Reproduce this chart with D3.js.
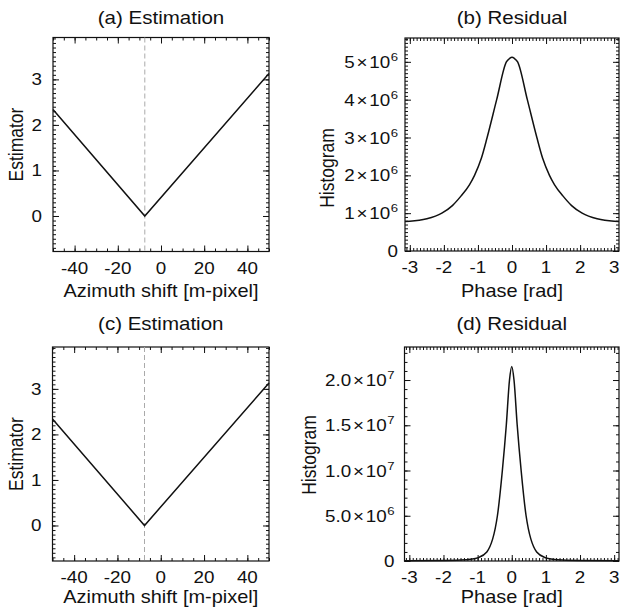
<!DOCTYPE html>
<html>
<head>
<meta charset="utf-8">
<script src="https://cdn.jsdelivr.net/npm/d3@7"></script>
<style>
  body { margin: 0; background: #fff; }
  text { font-family: "Liberation Sans", Arial, Helvetica, sans-serif; fill: #111; }
</style>
</head>
<body>
<svg id="chart" width="621" height="611"></svg>
<script>
// estimator curves (a) and (c) - same shape
const estShift = [-50, -7.5, 50];
const estValue = [2.34, 0, 3.13];
const estMinShift = -7.5;

// residual histogram (b)
const phaseB = [-3.14, -3.0, -2.5, -2.06, -1.75, -1.5, -1.25, -1.1, -0.9, -0.73, -0.45, -0.165, -0.07, 0, 0.07, 0.165, 0.45, 0.73, 0.9, 1.1, 1.25, 1.5, 1.75, 2.06, 2.5, 3.0, 3.14];
const countB = [0.78e6, 0.785e6, 0.85e6, 1.0e6, 1.2e6, 1.45e6, 1.75e6, 2.0e6, 2.45e6, 3.0e6, 4.0e6, 5.0e6, 5.09e6, 5.12e6, 5.09e6, 5.0e6, 4.0e6, 3.0e6, 2.45e6, 2.0e6, 1.75e6, 1.45e6, 1.2e6, 1.0e6, 0.85e6, 0.785e6, 0.78e6];

// residual histogram (d)
const phaseD = [-3.14, -2.0, -1.5, -1.2, -1.0, -0.73, -0.42, -0.275, -0.16, -0.066, 0, 0.066, 0.16, 0.275, 0.42, 0.73, 1.0, 1.2, 1.5, 2.0, 3.14];
const countD = [0.02e6, 0.05e6, 0.1e6, 0.2e6, 0.35e6, 1.0e6, 5.0e6, 10.0e6, 15.0e6, 20.0e6, 21.5e6, 20.0e6, 15.0e6, 10.0e6, 5.0e6, 1.0e6, 0.35e6, 0.2e6, 0.1e6, 0.05e6, 0.02e6];

const estXTicks = [-40, -20, 0, 20, 40];
const estYTicks = [0, 1, 2, 3];
const phaseTicks = [-3, -2, -1, 0, 1, 2, 3];
const histBTicks = [0, 1e6, 2e6, 3e6, 4e6, 5e6];
const histDTicks = [0, 5e6, 1e7, 1.5e7, 2e7];

const titles = ['(a) Estimation', '(b) Residual', '(c) Estimation', '(d) Residual'];
const estXLabel = 'Azimuth shift [m-pixel]';
const estYLabel = 'Estimator';
const resXLabel = 'Phase [rad]';
const resYLabel = 'Histogram';

const SX = 1.14; // reference text is horizontally stretched
const svg = d3.select('#chart');

function putText(g, x, y, str, size, anchor, rot) {
    const t = g.append('text')
        .attr('transform', 'translate(' + x + ',' + y + ') scale(' + SX + ',1)' + (rot ? ' rotate(' + rot + ')' : ''))
        .attr('text-anchor', anchor)
        .style('font-size', size + 'px');
    if (typeof str === 'string') {
        t.text(str);
    } else {
        // [mantissa, exponent] -> m×10^e
        t.append('tspan').text(str[0]);
        t.append('tspan').attr('dx', 1.5).text('\u00d7');
        t.append('tspan').attr('dx', 1.5).text('10');
        t.append('tspan').attr('dx', 0.5).attr('dy', -7).style('font-size', (size * 0.7) + 'px').text(str[1]);
    }
    return t;
}

function histLabel(v, exp, dec) {
    if (v === 0) return '0';
    return [(v / Math.pow(10, exp)).toFixed(dec), String(exp)];
}

function drawPanel(p) {
    const g = svg.append('g');
    const x = d3.scaleLinear().domain(p.xDomain).range([p.x0, p.x1]);
    const y = d3.scaleLinear().domain(p.yDomain).range([p.y1, p.y0]);

    // ticks on all four sides, pointing inward
    const sides = [
        [() => d3.axisBottom(x), 'translate(0,' + p.y1 + ')', 'x'],
        [() => d3.axisTop(x), 'translate(0,' + p.y0 + ')', 'x'],
        [() => d3.axisLeft(y), 'translate(' + p.x0 + ',0)', 'y'],
        [() => d3.axisRight(y), 'translate(' + p.x1 + ',0)', 'y']
    ];
    sides.forEach(([mkAxis, tr, dir]) => {
        const major = dir === 'x' ? p.xTicks : p.yTicks;
        const minor = dir === 'x' ? p.xMinor : p.yMinor;
        [[minor, 3], [major, 6]].forEach(([vals, len]) => {
            const s = g.append('g').attr('transform', tr)
                .call(mkAxis().tickValues(vals).tickSize(-len).tickFormat(''));
            s.select('.domain').remove();
            s.selectAll('line').attr('stroke', '#111').attr('stroke-width', 1);
        });
    });

    g.append('rect')
        .attr('x', p.x0).attr('y', p.y0)
        .attr('width', p.x1 - p.x0).attr('height', p.y1 - p.y0)
        .attr('fill', 'none').attr('stroke', '#111').attr('stroke-width', 1.2);

    if (p.vline !== undefined) {
        g.append('line')
            .attr('x1', x(p.vline)).attr('x2', x(p.vline))
            .attr('y1', p.y0).attr('y2', p.y1)
            .attr('stroke', '#aaa').attr('stroke-width', 1)
            .attr('stroke-dasharray', '5,3');
    }

    const line = d3.line()
        .x((d, i) => x(p.xs[i]))
        .y((d, i) => y(p.ys[i]))
        .curve(p.smooth ? d3.curveMonotoneX : d3.curveLinear);
    g.append('path')
        .attr('d', line(p.xs))
        .attr('fill', 'none').attr('stroke', '#111').attr('stroke-width', 1.5);

    // labels
    p.xTicks.forEach(v => putText(g, x(v), p.y1 + 22, String(v), 16.5, 'middle'));
    p.yTicks.forEach(v => putText(g, p.x0 - p.yPad, y(v) + 6, p.yFmt(v), 16.5, 'end'));
    putText(g, (p.x0 + p.x1) / 2, p.titleY, p.title, 18, 'middle');
    putText(g, (p.x0 + p.x1) / 2, p.xLabelY, p.xLabel, 17.5, 'middle');
    putText(g, p.yLabelX, p.yLabelY, p.yLabel, 17.5, 'middle', -90);
}

const estCommon = {
    xDomain: [-50, 50], yDomain: [-0.78, 3.92],
    xTicks: estXTicks, yTicks: estYTicks,
    xMinor: d3.range(-50, 50.1, 5), yMinor: d3.range(-0.7, 3.91, 0.1),
    xs: estShift, ys: estValue, vline: estMinShift, smooth: false,
    yFmt: v => String(v), yPad: 11,
    xLabel: estXLabel, yLabel: estYLabel, yLabelX: 23
};
const resCommon = {
    xDomain: [-Math.PI, Math.PI],
    xTicks: phaseTicks, xMinor: d3.range(-3.1, 3.11, 0.1),
    smooth: true,
    xLabel: resXLabel, yLabel: resYLabel
};

drawPanel(Object.assign({}, estCommon, {
    x0: 53, x1: 269, y0: 37.5, y1: 251.5,
    title: titles[0], titleY: 23.5, xLabelY: 297, yLabelY: 144.5
}));
drawPanel(Object.assign({}, resCommon, {
    x0: 405, x1: 619, y0: 38, y1: 251,
    yDomain: [0, 5.63e6], yTicks: histBTicks, yMinor: d3.range(0, 5.61e6, 1e5),
    xs: phaseB, ys: countB, yFmt: v => histLabel(v, 6, 0), yPad: 7,
    title: titles[1], titleY: 23.5, xLabelY: 297, yLabelX: 334, yLabelY: 168
}));
drawPanel(Object.assign({}, estCommon, {
    x0: 52.5, x1: 269, y0: 347, y1: 561,
    title: titles[2], titleY: 330, xLabelY: 603, yLabelY: 454
}));
drawPanel(Object.assign({}, resCommon, {
    x0: 404.5, x1: 619, y0: 347, y1: 561,
    yDomain: [0, 2.365e7], yTicks: histDTicks, yMinor: d3.range(0, 2.36e7, 1e6),
    xs: phaseD, ys: countD, yFmt: v => v < 1e7 ? histLabel(v, 6, 1) : histLabel(v, 7, 1), yPad: 10,
    title: titles[3], titleY: 330, xLabelY: 603, yLabelX: 316, yLabelY: 455
}));
</script>
</body>
</html>
